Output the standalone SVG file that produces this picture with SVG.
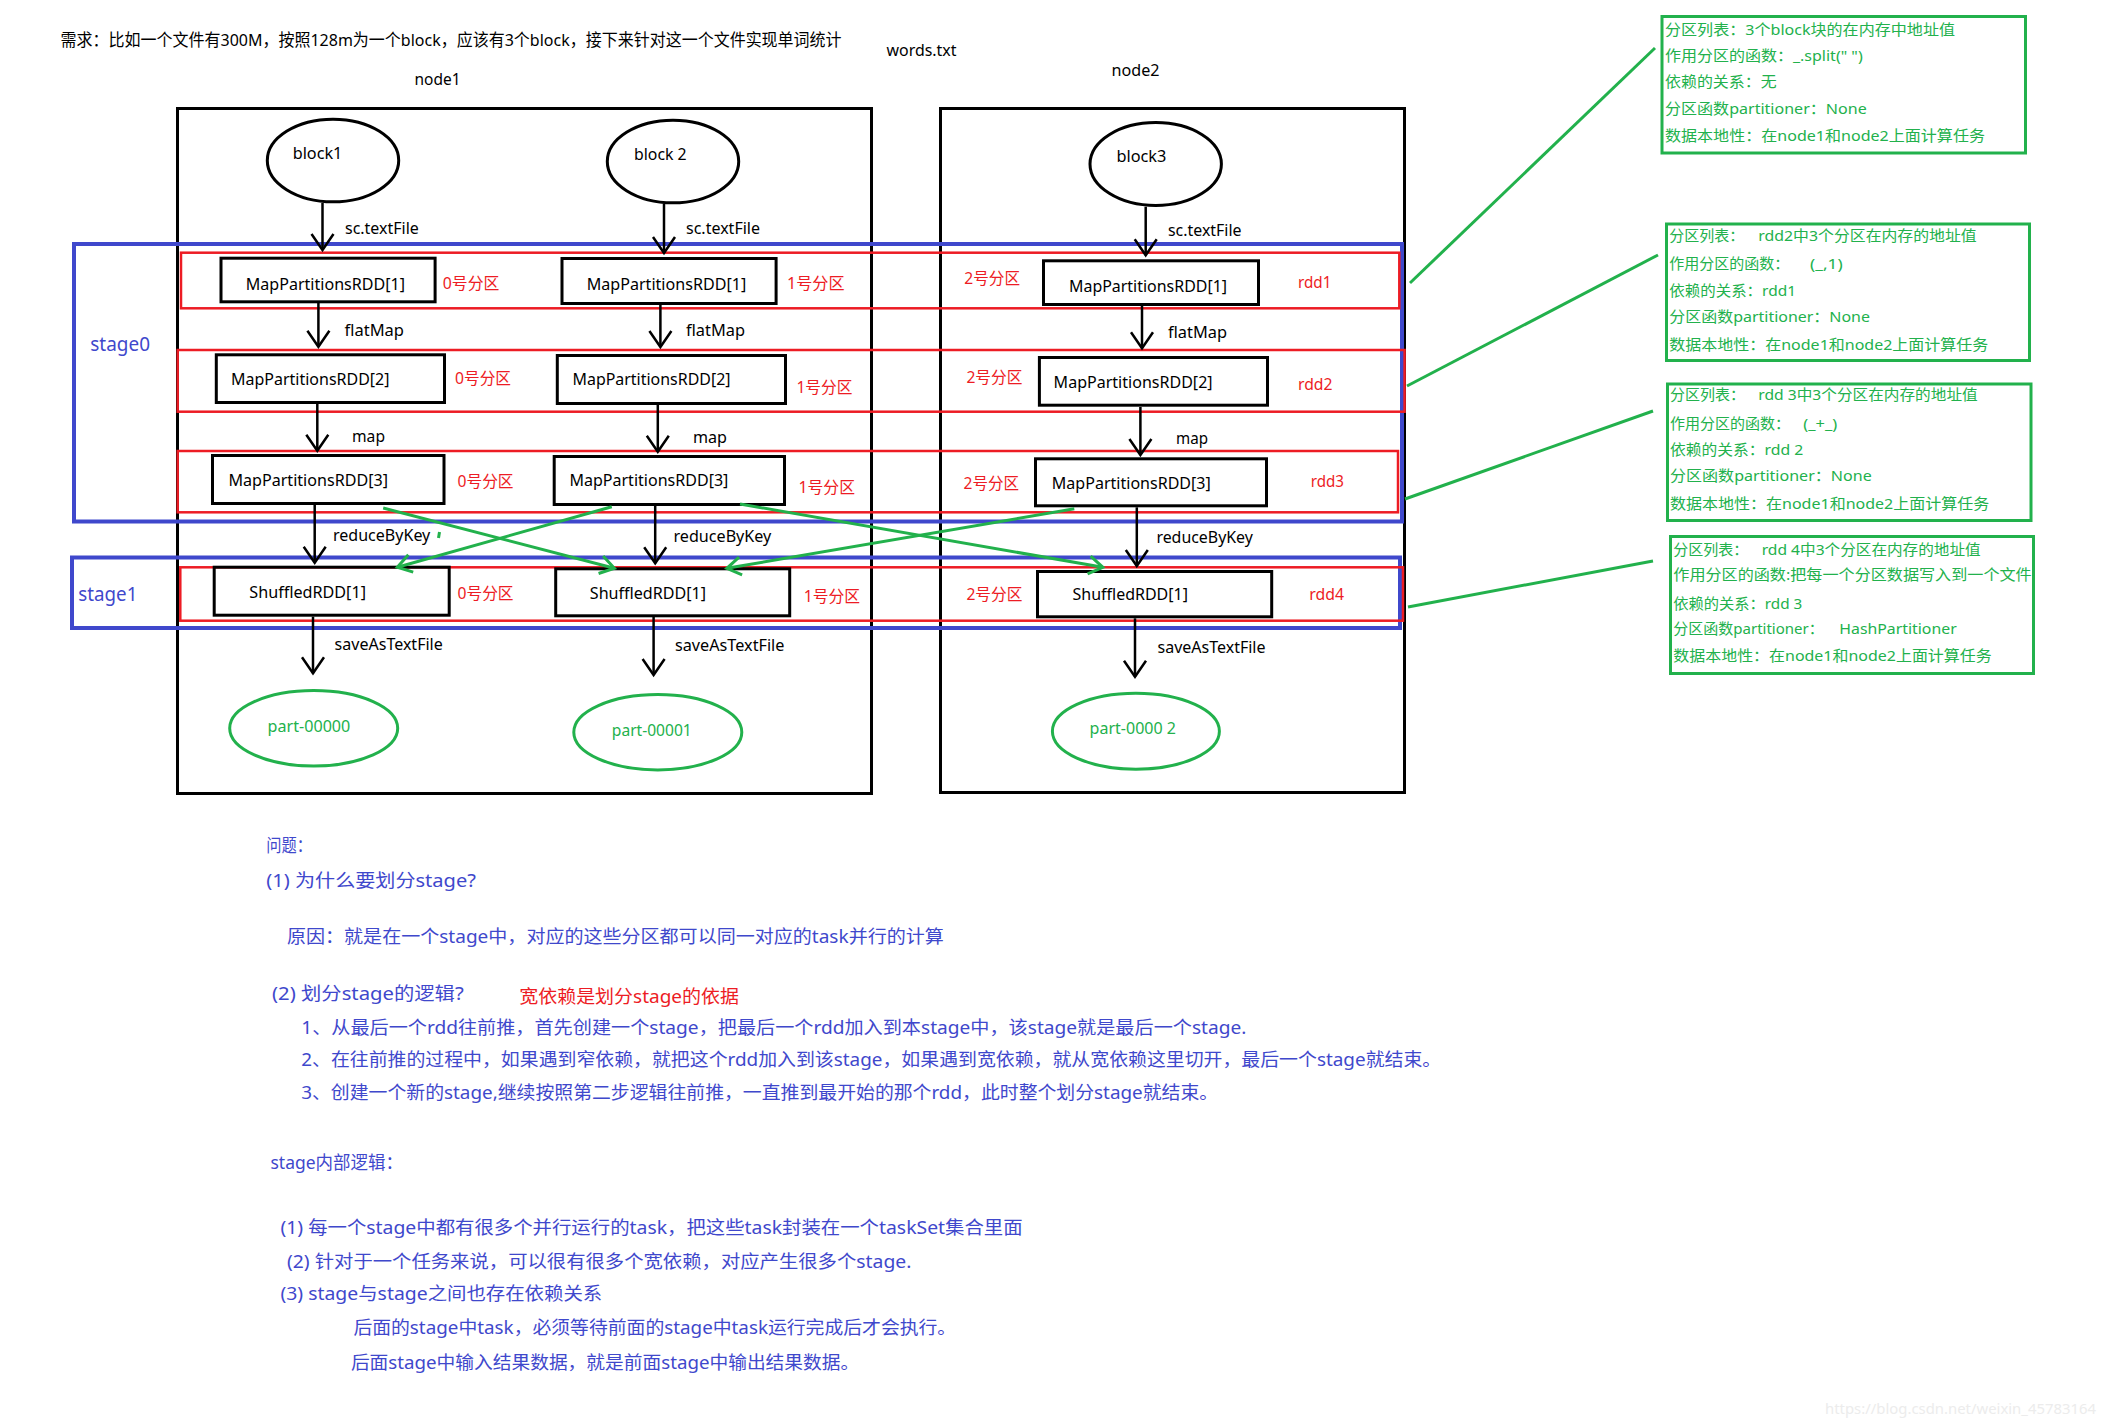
<svg xmlns="http://www.w3.org/2000/svg" width="2105" height="1426" viewBox="0 0 2105 1426">
<style>
text { font-family: "Noto Sans", "Noto Sans CJK SC", sans-serif; }
.t { font-size:16px; fill:#000; }
.title { font-size:17px; fill:#000; }
.red { font-size:16px; fill:#ed1c24; }
.gt { font-size:15px; fill:#22b14c; }
.pt { font-size:16px; fill:#22b14c; }
.st { font-size:19px; fill:#3f48cc; }
.bt { font-size:18px; fill:#3f48cc; }
.bred { font-size:18px; fill:#ed1c24; }
.wm { font-size:14px; fill:#ececec; }
.node { fill:none; stroke:#000; stroke-width:3; }
.box { fill:none; stroke:#000; stroke-width:3; }
.blk { fill:none; stroke:#000; stroke-width:3; }
.part { fill:none; stroke:#22b14c; stroke-width:3; }
.row { fill:none; stroke:#ed1c24; stroke-width:2.5; }
.stage { fill:none; stroke:#3f48cc; stroke-width:4; }
.gbox { fill:none; stroke:#22b14c; stroke-width:3; }
.conn { fill:none; stroke:#000; stroke-width:2.5; marker-end:url(#ah); }
.sh { fill:none; stroke:#22b14c; stroke-width:3; marker-end:url(#gh); }
.gl { fill:none; stroke:#22b14c; stroke-width:3; }
</style>
<defs>
<marker id="ah" viewBox="-20 -14 24 28" refX="0" refY="0" markerWidth="24" markerHeight="28" markerUnits="userSpaceOnUse" orient="auto" overflow="visible">
<path d="M-16,-11 L0,0 L-16,11" fill="none" stroke="#000" stroke-width="2.5"/>
</marker>
<marker id="gh" viewBox="-18 -12 22 24" refX="0" refY="0" markerWidth="22" markerHeight="24" markerUnits="userSpaceOnUse" orient="auto" overflow="visible">
<path d="M-14,-9 L0,0 L-14,9" fill="none" stroke="#22b14c" stroke-width="3"/>
</marker>
</defs>
<rect width="2105" height="1426" fill="#fff"/>

<text class="title" x="60.6" y="45.5" textLength="781" lengthAdjust="spacingAndGlyphs">需求：比如一个文件有300M，按照128m为一个block，应该有3个block，接下来针对这一个文件实现单词统计</text>
<text class="t" x="886.5" y="55.5" textLength="70" lengthAdjust="spacingAndGlyphs">words.txt</text>

<g id="node1">
<rect class="node" x="177.5" y="108.5" width="694" height="685"/>
<text class="t" x="414.5" y="85" textLength="46" lengthAdjust="spacingAndGlyphs">node1</text>
</g>
<g id="node2">
<rect class="node" x="940.5" y="108.5" width="464" height="684"/>
<text class="t" x="1111.6" y="75.5" textLength="48" lengthAdjust="spacingAndGlyphs">node2</text>
</g>

<g id="stage0">
<rect class="stage" x="74" y="244" width="1328" height="277.5"/>
<text class="st" x="90.3" y="351" textLength="59.7" lengthAdjust="spacingAndGlyphs">stage0</text>
</g>
<g id="stage1">
<rect class="stage" x="72" y="557.5" width="1328" height="70.5"/>
<text class="st" x="78.3" y="601" textLength="59.1" lengthAdjust="spacingAndGlyphs">stage1</text>
</g>

<g id="rdd1">
<rect class="row" x="181" y="252.7" width="1218.3" height="55.6"/>
<text class="red" x="1298" y="288" textLength="33.4" lengthAdjust="spacingAndGlyphs">rdd1</text>
</g>
<g id="rdd2">
<rect class="row" x="177.7" y="350" width="1226.9" height="61.7"/>
<text class="red" x="1298" y="390" textLength="34.5" lengthAdjust="spacingAndGlyphs">rdd2</text>
</g>
<g id="rdd3">
<rect class="row" x="177.7" y="451" width="1220.3" height="61.3"/>
<text class="red" x="1310.7" y="487" textLength="33.3" lengthAdjust="spacingAndGlyphs">rdd3</text>
</g>
<g id="rdd4">
<rect class="row" x="180.3" y="567.3" width="1222.7" height="53.4"/>
<text class="red" x="1309.3" y="599.5" textLength="34.7" lengthAdjust="spacingAndGlyphs">rdd4</text>
</g>

<g id="block1">
<ellipse class="blk" cx="333" cy="160.5" rx="65.7" ry="41.3"/>
<text class="t" x="292.7" y="159" textLength="49.7" lengthAdjust="spacingAndGlyphs">block1</text>
</g>
<g id="block2">
<ellipse class="blk" cx="673" cy="161.5" rx="65.7" ry="41.3"/>
<text class="t" x="634" y="160" textLength="52.6" lengthAdjust="spacingAndGlyphs">block 2</text>
</g>
<g id="block3">
<ellipse class="blk" cx="1155.7" cy="164" rx="65.7" ry="41.5"/>
<text class="t" x="1116.4" y="162" textLength="50" lengthAdjust="spacingAndGlyphs">block3</text>
</g>

<g id="r1c1"><rect class="box" x="221" y="258.2" width="214.1" height="43.6"/><text class="t" x="245.7" y="289.5" textLength="159.3" lengthAdjust="spacingAndGlyphs">MapPartitionsRDD[1]</text><text class="red" x="442.8" y="289" textLength="56.5" lengthAdjust="spacingAndGlyphs">0号分区</text></g>
<g id="r1c2"><rect class="box" x="562" y="258.5" width="214.1" height="45"/><text class="t" x="586.7" y="290" textLength="159.5" lengthAdjust="spacingAndGlyphs">MapPartitionsRDD[1]</text><text class="red" x="787" y="289" textLength="57.5" lengthAdjust="spacingAndGlyphs">1号分区</text></g>
<g id="r1c3"><rect class="box" x="1043.5" y="260.8" width="215" height="43.7"/><text class="t" x="1069" y="292" textLength="158" lengthAdjust="spacingAndGlyphs">MapPartitionsRDD[1]</text><text class="red" x="964.3" y="284.3" textLength="55.7" lengthAdjust="spacingAndGlyphs">2号分区</text></g>

<g id="r2c1"><rect class="box" x="216.3" y="354.8" width="228.2" height="47.7"/><text class="t" x="231" y="384.5" textLength="158.5" lengthAdjust="spacingAndGlyphs">MapPartitionsRDD[2]</text><text class="red" x="455" y="384" textLength="56" lengthAdjust="spacingAndGlyphs">0号分区</text></g>
<g id="r2c2"><rect class="box" x="557.3" y="355.5" width="228.2" height="48"/><text class="t" x="572.5" y="385" textLength="158" lengthAdjust="spacingAndGlyphs">MapPartitionsRDD[2]</text><text class="red" x="796.4" y="393.3" textLength="56" lengthAdjust="spacingAndGlyphs">1号分区</text></g>
<g id="r2c3"><rect class="box" x="1039.4" y="357.5" width="228.1" height="47.7"/><text class="t" x="1053.6" y="387.5" textLength="159" lengthAdjust="spacingAndGlyphs">MapPartitionsRDD[2]</text><text class="red" x="966.4" y="383.3" textLength="56" lengthAdjust="spacingAndGlyphs">2号分区</text></g>

<g id="r3c1"><rect class="box" x="212.5" y="455.5" width="231.5" height="48"/><text class="t" x="228.4" y="485.5" textLength="159.6" lengthAdjust="spacingAndGlyphs">MapPartitionsRDD[3]</text><text class="red" x="457.5" y="486.7" textLength="56" lengthAdjust="spacingAndGlyphs">0号分区</text></g>
<g id="r3c2"><rect class="box" x="554.2" y="456.5" width="230.3" height="48"/><text class="t" x="569.4" y="486" textLength="159" lengthAdjust="spacingAndGlyphs">MapPartitionsRDD[3]</text><text class="red" x="798.5" y="493.3" textLength="56.5" lengthAdjust="spacingAndGlyphs">1号分区</text></g>
<g id="r3c3"><rect class="box" x="1035.5" y="458.8" width="231" height="47"/><text class="t" x="1051.8" y="488.5" textLength="159" lengthAdjust="spacingAndGlyphs">MapPartitionsRDD[3]</text><text class="red" x="963.6" y="488.7" textLength="55.4" lengthAdjust="spacingAndGlyphs">2号分区</text></g>

<g id="r4c1"><rect class="box" x="214.2" y="567.2" width="235" height="48"/><text class="t" x="249.3" y="597.5" textLength="116.7" lengthAdjust="spacingAndGlyphs">ShuffledRDD[1]</text><text class="red" x="457.5" y="598.7" textLength="56" lengthAdjust="spacingAndGlyphs">0号分区</text></g>
<g id="r4c2"><rect class="box" x="555.7" y="568.8" width="234" height="47"/><text class="t" x="589.8" y="598.5" textLength="116.2" lengthAdjust="spacingAndGlyphs">ShuffledRDD[1]</text><text class="red" x="803.7" y="602" textLength="56.3" lengthAdjust="spacingAndGlyphs">1号分区</text></g>
<g id="r4c3"><rect class="box" x="1037.5" y="571.5" width="234.2" height="45.3"/><text class="t" x="1072.5" y="600" textLength="115.4" lengthAdjust="spacingAndGlyphs">ShuffledRDD[1]</text><text class="red" x="966.4" y="600" textLength="56" lengthAdjust="spacingAndGlyphs">2号分区</text></g>

<g id="part0"><ellipse class="part" cx="313.7" cy="728.3" rx="84" ry="37.7"/><text class="pt" x="267.6" y="731.5" textLength="82.7" lengthAdjust="spacingAndGlyphs">part-00000</text></g>
<g id="part1"><ellipse class="part" cx="657.8" cy="732.2" rx="84" ry="37.7"/><text class="pt" x="611.8" y="735.5" textLength="80" lengthAdjust="spacingAndGlyphs">part-00001</text></g>
<g id="part2"><ellipse class="part" cx="1135.9" cy="731.2" rx="83.5" ry="38"/><text class="pt" x="1089.6" y="734" textLength="86.4" lengthAdjust="spacingAndGlyphs">part-0000 2</text></g>

<g id="connectors">
<line class="conn" x1="322.5" y1="203" x2="322.5" y2="250"/>
<line class="conn" x1="318.4" y1="303" x2="318.4" y2="346.7"/>
<line class="conn" x1="317.3" y1="404" x2="317.3" y2="450.7"/>
<line class="conn" x1="314.7" y1="505" x2="314.7" y2="562.7"/>
<line class="conn" x1="313" y1="616.7" x2="313" y2="673.3"/>
<line class="conn" x1="664" y1="204" x2="664" y2="253"/>
<line class="conn" x1="660.4" y1="305" x2="660.4" y2="347"/>
<line class="conn" x1="657.8" y1="405" x2="657.8" y2="451.7"/>
<line class="conn" x1="655.2" y1="506" x2="655.2" y2="563.3"/>
<line class="conn" x1="653.6" y1="617" x2="653.6" y2="675"/>
<line class="conn" x1="1145.7" y1="206.7" x2="1145.7" y2="255.3"/>
<line class="conn" x1="1142" y1="306" x2="1142" y2="348.3"/>
<line class="conn" x1="1140.4" y1="407" x2="1140.4" y2="455"/>
<line class="conn" x1="1136.8" y1="507.3" x2="1136.8" y2="566"/>
<line class="conn" x1="1135" y1="618.3" x2="1135" y2="676.7"/>
<text class="t" x="345" y="233.7" textLength="73.8" lengthAdjust="spacingAndGlyphs">sc.textFile</text>
<text class="t" x="686" y="234" textLength="74" lengthAdjust="spacingAndGlyphs">sc.textFile</text>
<text class="t" x="1168" y="236" textLength="73.5" lengthAdjust="spacingAndGlyphs">sc.textFile</text>
<text class="t" x="344.5" y="335.7" textLength="59.5" lengthAdjust="spacingAndGlyphs">flatMap</text>
<text class="t" x="686" y="336" textLength="59" lengthAdjust="spacingAndGlyphs">flatMap</text>
<text class="t" x="1168" y="338.3" textLength="59" lengthAdjust="spacingAndGlyphs">flatMap</text>
<text class="t" x="352" y="442" textLength="33" lengthAdjust="spacingAndGlyphs">map</text>
<text class="t" x="693" y="442.5" textLength="34" lengthAdjust="spacingAndGlyphs">map</text>
<text class="t" x="1176" y="444" textLength="32" lengthAdjust="spacingAndGlyphs">map</text>
<text class="t" x="333" y="540.7" textLength="97.3" lengthAdjust="spacingAndGlyphs">reduceByKey</text>
<text class="t" x="673.5" y="541.7" textLength="97.8" lengthAdjust="spacingAndGlyphs">reduceByKey</text>
<text class="t" x="1156.4" y="543.3" textLength="96.5" lengthAdjust="spacingAndGlyphs">reduceByKey</text>
<text class="t" x="334.6" y="650" textLength="108.2" lengthAdjust="spacingAndGlyphs">saveAsTextFile</text>
<text class="t" x="675" y="651" textLength="109.4" lengthAdjust="spacingAndGlyphs">saveAsTextFile</text>
<text class="t" x="1157.5" y="653.3" textLength="108" lengthAdjust="spacingAndGlyphs">saveAsTextFile</text>
<line class="sh" x1="383.2" y1="508" x2="614.4" y2="568.3"/>
<line class="sh" x1="611.8" y1="506.7" x2="397.3" y2="567.3"/>
<line class="sh" x1="740" y1="504" x2="1102.9" y2="567.3"/>
<line class="sh" x1="1074.3" y1="508.8" x2="726.8" y2="568.3"/>
<line class="gl" x1="439.5" y1="532" x2="438.5" y2="538" stroke-width="2"/>
<line class="gl" x1="1410" y1="283" x2="1655" y2="48"/>
<line class="gl" x1="1407" y1="386" x2="1658" y2="255"/>
<line class="gl" x1="1405" y1="499" x2="1653" y2="411"/>
<line class="gl" x1="1408" y1="607" x2="1653" y2="561"/>
</g>

<g id="info1">
<rect class="gbox" x="1662" y="16.5" width="363.5" height="136.5"/>
<text class="gt" x="1665" y="34.5" textLength="290" lengthAdjust="spacingAndGlyphs">分区列表：3个block块的在内存中地址值</text>
<text class="gt" x="1665" y="61" textLength="197.7" lengthAdjust="spacingAndGlyphs">作用分区的函数：_.split(" ")</text>
<text class="gt" x="1665" y="87" textLength="111.7" lengthAdjust="spacingAndGlyphs">依赖的关系：无</text>
<text class="gt" x="1665" y="113.5" textLength="201.7" lengthAdjust="spacingAndGlyphs">分区函数partitioner：None</text>
<text class="gt" x="1665" y="141" textLength="320" lengthAdjust="spacingAndGlyphs">数据本地性：在node1和node2上面计算任务</text>
</g>
<g id="info2">
<rect class="gbox" x="1666.5" y="224" width="363" height="136.5"/>
<text class="gt" x="1669.3" y="241">分区列表：</text>
<text class="gt" x="1758.3" y="241" textLength="218.4" lengthAdjust="spacingAndGlyphs">rdd2中3个分区在内存的地址值</text>
<text class="gt" x="1669.3" y="269">作用分区的函数：</text>
<text class="gt" x="1810" y="269" textLength="32.7" lengthAdjust="spacingAndGlyphs">(_,1)</text>
<text class="gt" x="1669.3" y="296" textLength="126.7" lengthAdjust="spacingAndGlyphs">依赖的关系：rdd1</text>
<text class="gt" x="1669.3" y="322" textLength="200.7" lengthAdjust="spacingAndGlyphs">分区函数partitioner：None</text>
<text class="gt" x="1669.3" y="349.5" textLength="319" lengthAdjust="spacingAndGlyphs">数据本地性：在node1和node2上面计算任务</text>
</g>
<g id="info3">
<rect class="gbox" x="1667.5" y="384" width="363.5" height="136.5"/>
<text class="gt" x="1670" y="400">分区列表：</text>
<text class="gt" x="1758.3" y="400" textLength="219.4" lengthAdjust="spacingAndGlyphs">rdd 3中3个分区在内存的地址值</text>
<text class="gt" x="1670" y="428.5">作用分区的函数：</text>
<text class="gt" x="1803.3" y="428.5" textLength="34" lengthAdjust="spacingAndGlyphs">(_+_)</text>
<text class="gt" x="1670" y="455" textLength="133.3" lengthAdjust="spacingAndGlyphs">依赖的关系：rdd 2</text>
<text class="gt" x="1670" y="481" textLength="201.7" lengthAdjust="spacingAndGlyphs">分区函数partitioner：None</text>
<text class="gt" x="1670" y="508.5" textLength="319.3" lengthAdjust="spacingAndGlyphs">数据本地性：在node1和node2上面计算任务</text>
</g>
<g id="info4">
<rect class="gbox" x="1670.5" y="536.5" width="363" height="137"/>
<text class="gt" x="1673.3" y="554.5">分区列表：</text>
<text class="gt" x="1761.7" y="554.5" textLength="219" lengthAdjust="spacingAndGlyphs">rdd 4中3个分区在内存的地址值</text>
<text class="gt" x="1673.3" y="579.5" textLength="358.4" lengthAdjust="spacingAndGlyphs">作用分区的函数:把每一个分区数据写入到一个文件</text>
<text class="gt" x="1673.3" y="608.5" textLength="129" lengthAdjust="spacingAndGlyphs">依赖的关系：rdd 3</text>
<text class="gt" x="1673.3" y="633.5">分区函数partitioner：</text>
<text class="gt" x="1839.3" y="633.5" textLength="117.4" lengthAdjust="spacingAndGlyphs">HashPartitioner</text>
<text class="gt" x="1673.3" y="661" textLength="318.4" lengthAdjust="spacingAndGlyphs">数据本地性：在node1和node2上面计算任务</text>
</g>

<g id="notes">
<text class="bt" x="266.3" y="852" textLength="45.7" lengthAdjust="spacingAndGlyphs">问题：</text>
<text class="bt" x="266.3" y="887" textLength="209.7" lengthAdjust="spacingAndGlyphs">(1) 为什么要划分stage?</text>
<text class="bt" x="287" y="942.7" textLength="656.8" lengthAdjust="spacingAndGlyphs">原因：就是在一个stage中，对应的这些分区都可以同一对应的task并行的计算</text>
<text class="bt" x="272" y="1000.3" textLength="191.7" lengthAdjust="spacingAndGlyphs">(2) 划分stage的逻辑?</text>
<text class="bred" x="519.2" y="1003" textLength="219.8" lengthAdjust="spacingAndGlyphs">宽依赖是划分stage的依据</text>
<text class="bt" x="301.2" y="1033.7" textLength="945.2" lengthAdjust="spacingAndGlyphs">1、从最后一个rdd往前推，首先创建一个stage，把最后一个rdd加入到本stage中，该stage就是最后一个stage.</text>
<text class="bt" x="301.2" y="1066.3" textLength="1140" lengthAdjust="spacingAndGlyphs">2、在往前推的过程中，如果遇到窄依赖，就把这个rdd加入到该stage，如果遇到宽依赖，就从宽依赖这里切开，最后一个stage就结束。</text>
<text class="bt" x="301.2" y="1098.7" textLength="917" lengthAdjust="spacingAndGlyphs">3、创建一个新的stage,继续按照第二步逻辑往前推，一直推到最开始的那个rdd，此时整个划分stage就结束。</text>
<text class="bt" x="270.5" y="1168.7" textLength="132.5" lengthAdjust="spacingAndGlyphs">stage内部逻辑：</text>
<text class="bt" x="280.4" y="1233.7" textLength="742.2" lengthAdjust="spacingAndGlyphs">(1) 每一个stage中都有很多个并行运行的task，把这些task封装在一个taskSet集合里面</text>
<text class="bt" x="287" y="1267.7" textLength="624.4" lengthAdjust="spacingAndGlyphs">(2) 针对于一个任务来说，可以很有很多个宽依赖，对应产生很多个stage.</text>
<text class="bt" x="280.4" y="1300.3" textLength="321.8" lengthAdjust="spacingAndGlyphs">(3) stage与stage之间也存在依赖关系</text>
<text class="bt" x="353.4" y="1333.7" textLength="602.8" lengthAdjust="spacingAndGlyphs">后面的stage中task，必须等待前面的stage中task运行完成后才会执行。</text>
<text class="bt" x="350.9" y="1369.3" textLength="508.3" lengthAdjust="spacingAndGlyphs">后面stage中输入结果数据，就是前面stage中输出结果数据。</text>
</g>
<text class="wm" x="1825" y="1414" textLength="271" lengthAdjust="spacingAndGlyphs">https://blog.csdn.net/weixin_45783164</text>
</svg>
